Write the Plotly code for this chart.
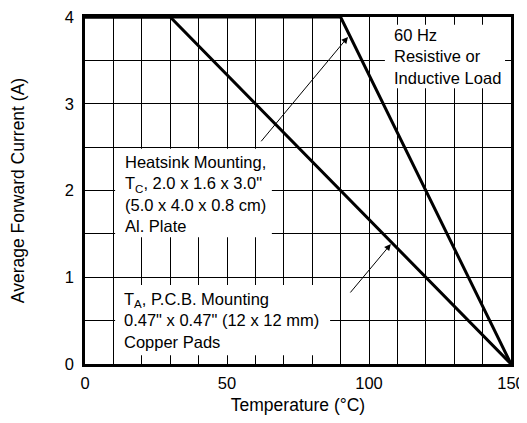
import plotly.graph_objects as go

# Data
temp_tc = [0, 90, 150]
curr_tc = [4, 4, 0]
temp_ta = [0, 30, 150]
curr_ta = [4, 4, 0]

x_tickvals = list(range(0, 151, 10))
x_ticktext = [str(v) if v % 50 == 0 else "" for v in x_tickvals]
y_tickvals = [i * 0.5 for i in range(9)]
y_ticktext = [str(int(v)) if v == int(v) else "" for v in y_tickvals]

FONT = "Liberation Sans, Arial, Helvetica, sans-serif"

fig = go.Figure()
fig.add_trace(go.Scatter(x=temp_tc, y=curr_tc, mode="lines",
                         line=dict(color="black", width=3), cliponaxis=False,
                         showlegend=False, hoverinfo="skip"))
fig.add_trace(go.Scatter(x=temp_ta, y=curr_ta, mode="lines",
                         line=dict(color="black", width=3), cliponaxis=False,
                         showlegend=False, hoverinfo="skip"))

# white label boxes (between grid and traces)
boxes = [
    (10.6, 65.8, 1.46, 2.48),
    (10.6, 86.3, 0.10, 0.91),
    (105.6, 147.9, 3.18, 3.91),
]
for x0, x1, y0, y1 in boxes:
    fig.add_shape(type="rect", x0=x0, x1=x1, y0=y0, y1=y1, xref="x", yref="y",
                  fillcolor="white", line=dict(width=0), layer="between")

texts = [
    (13.4, 1.955, "Heatsink Mounting,<br>T<sub>C</sub>, 2.0 x 1.6 x 3.0\"<br>(5.0 x 4.0 x 0.8 cm)<br>Al. Plate"),
    (13.0, 0.505, "T<sub>A</sub>, P.C.B. Mounting<br>0.47\" x 0.47\" (12 x 12 mm)<br>Copper Pads"),
    (108.0, 3.54, "60 Hz<br>Resistive or<br>Inductive Load"),
]
for x, y, t in texts:
    fig.add_annotation(x=x, y=y, xref="x", yref="y", text=t, showarrow=False,
                       xanchor="left", yanchor="middle", align="left",
                       font=dict(family=FONT, size=16.5, color="black"))

arrows = [
    (92.6, 3.77, 61.6, 2.55),
    (107.7, 1.383, 93.0, 0.807),
]
for x, y, ax, ay in arrows:
    fig.add_annotation(x=x, y=y, ax=ax, ay=ay, xref="x", yref="y", axref="x", ayref="y",
                       text="", showarrow=True, arrowhead=2, arrowsize=1.3,
                       arrowwidth=1, arrowcolor="black", standoff=0)

fig.update_xaxes(range=[0, 150], tickvals=x_tickvals, ticktext=x_ticktext,
                 showgrid=True, gridcolor="black", gridwidth=1,
                 showline=True, linecolor="black", linewidth=2.5, mirror=True,
                 zeroline=False, ticks="", ticklabelstandoff=2,
                 ticklabeloverflow="allow",
                 tickfont=dict(family=FONT, size=16.5, color="black"),
                 title=dict(text="Temperature (°C)", standoff=10,
                            font=dict(family=FONT, size=17.5, color="black")))
fig.update_yaxes(range=[0, 4], tickvals=y_tickvals, ticktext=y_ticktext,
                 showgrid=True, gridcolor="black", gridwidth=1,
                 showline=True, linecolor="black", linewidth=2.5, mirror=True,
                 zeroline=False, ticks="", ticklabelstandoff=5,
                 ticklabeloverflow="allow",
                 tickfont=dict(family=FONT, size=16.5, color="black"),
                 title=dict(text="Average Forward Current (A)", standoff=36,
                            font=dict(family=FONT, size=17.5, color="black")))

fig.update_layout(width=519, height=407,
                  margin=dict(l=77, r=16, t=9, b=51, autoexpand=False),
                  plot_bgcolor="white", paper_bgcolor="white",
                  font=dict(family=FONT, color="black"))

fig.write_html("out.html")
